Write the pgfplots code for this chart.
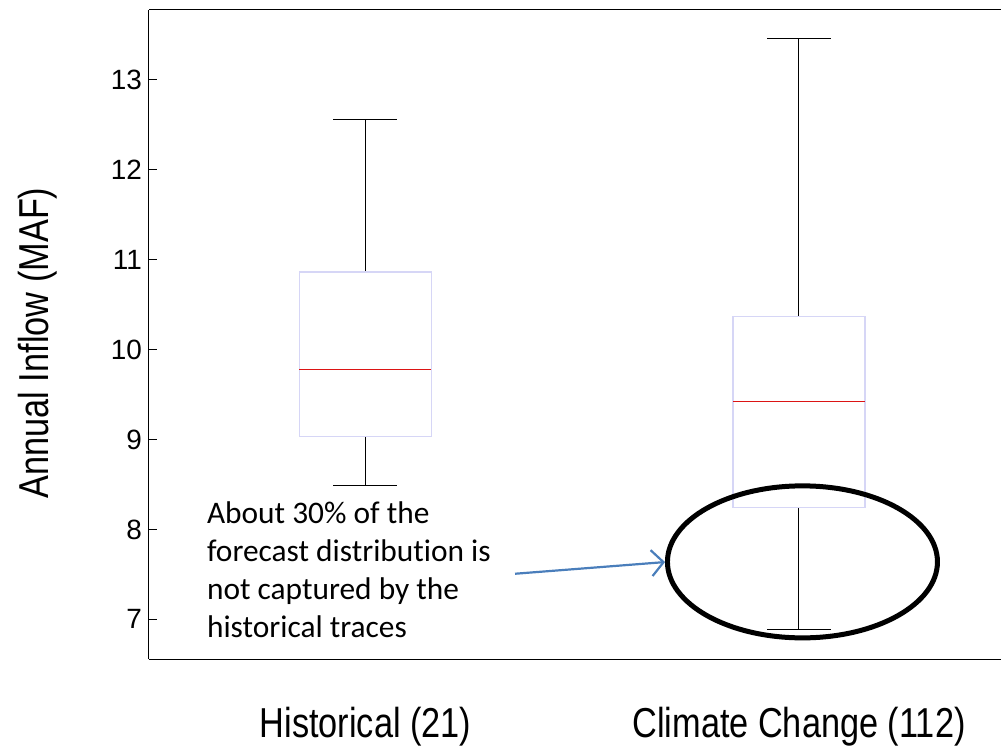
\documentclass[border=0pt]{standalone}
\usepackage{pgfplots}
\pgfplotsset{compat=1.18}
\usetikzlibrary{arrows.meta}
\usepackage{fontspec}
\setmainfont{Liberation Sans}
\newfontfamily\narrowfont[FakeStretch=0.82]{Liberation Sans}
\newfontfamily\calib[Ligatures=NoCommon]{Carlito}
\definecolor{boxc}{RGB}{214,214,246}
\definecolor{medc}{RGB}{220,20,20}
\definecolor{arrc}{RGB}{74,126,187}
\begin{document}
\begin{tikzpicture}
\path[use as bounding box] (-149bp,-88bp) rectangle (853bp,659bp);
\begin{axis}[
  anchor=south west, at={(0,0)},
  scale only axis, width=852bp, height=649bp,
  xmin=0.5006, xmax=2.466, ymin=6.559, ymax=13.776,
  axis x line*=box, axis y line*=left,
  x axis line style={-}, y axis line style={-},
  axis line style={line width=1bp, black},
  tick align=inside, ytick pos=left,
  xtick={1,2}, xticklabels={Historical (21), Climate Change (112)},
  x tick style={draw=none},
  ytick={7,8,9,10,11,12,13},
  y tick style={line width=1bp, black},
  major tick length=8bp,
  /pgf/number format/assume math mode=true,
  yticklabel style={font=\fontsize{28}{32}\selectfont, inner sep=0pt, xshift=-7bp},
  xticklabel style={font=\narrowfont\fontsize{42}{50}\selectfont, anchor=base, yshift=-78bp},
  ylabel={Annual Inflow (MAF)},
  ylabel style={font=\narrowfont\fontsize{42}{50}\selectfont, at={(axis description cs:-0.131,0.487)}, anchor=center},
  clip=false,
]
% Historical (21): whiskers 8.489 / 12.556, quartiles 9.033 / 10.862, median 9.781
\addplot[black, line width=1bp] coordinates {(1,10.862) (1,12.556)};
\addplot[black, line width=1bp] coordinates {(0.9262,12.556) (1.0738,12.556)};
\addplot[black, line width=1bp] coordinates {(1,9.033) (1,8.489)};
\addplot[black, line width=1bp] coordinates {(0.9262,8.489) (1.0738,8.489)};
\addplot[boxc, line width=1.2bp] coordinates {(0.84775,9.033) (1.15225,9.033) (1.15225,10.862) (0.84775,10.862)} -- cycle;
\addplot[medc, line width=1.2bp] coordinates {(0.84775,9.781) (1.15225,9.781)};
% Climate Change (112): whiskers 6.886 / 13.464, quartiles 8.248 / 10.37, median 9.419
\addplot[black, line width=1bp] coordinates {(2,10.37) (2,13.464)};
\addplot[black, line width=1bp] coordinates {(1.9262,13.464) (2.0738,13.464)};
\addplot[black, line width=1bp] coordinates {(2,8.248) (2,6.886)};
\addplot[black, line width=1bp] coordinates {(1.9262,6.886) (2.0738,6.886)};
\addplot[boxc, line width=1.2bp] coordinates {(1.84775,8.248) (2.15225,8.248) (2.15225,10.37) (1.84775,10.37)} -- cycle;
\addplot[medc, line width=1.2bp] coordinates {(1.84775,9.419) (2.15225,9.419)};
\draw[line width=5bp, black] (axis cs:2.008,7.639) ellipse [x radius=135bp, y radius=76bp];
\draw[arrc, line width=2.2bp, -{Straight Barb[length=12bp, width=26bp, line width=2.2bp]}] (axis cs:1.345,7.507) -- (axis cs:1.691,7.637);
\node[anchor=north west, align=left, inner sep=0pt, font=\calib\fontsize{31.5}{38}\selectfont] at (axis cs:0.634,8.31) {About 30\% of the\\forecast distribution is\\not captured by the\\historical traces};
\end{axis}
\end{tikzpicture}
\end{document}
